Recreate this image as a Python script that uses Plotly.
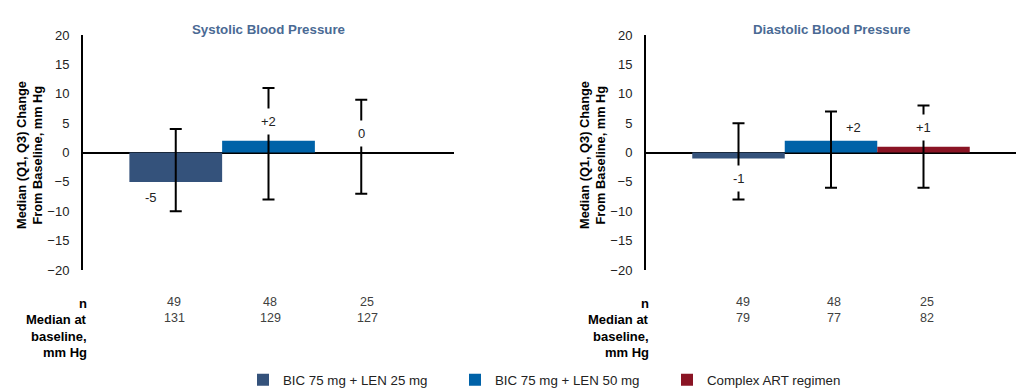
import plotly.graph_objects as go

# ---- data ----
groups = ["BIC 75 mg + LEN 25 mg", "BIC 75 mg + LEN 50 mg", "Complex ART regimen"]
colors = ["#34527b", "#0062a8", "#8a1424"]
positions = [0, 1, 2]

sbp_median = [-5, 2, 0]
sbp_q1 = [-10, -8, -7]
sbp_q3 = [4, 11, 9]
sbp_n = [49, 48, 25]
sbp_base = [131, 129, 127]

dbp_median = [-1, 2, 1]
dbp_q1 = [-8, -6, -6]
dbp_q3 = [5, 7, 8]
dbp_n = [49, 48, 25]
dbp_base = [79, 77, 82]

yticks = [20, 15, 10, 5, 0, -5, -10, -15, -20]

W, H = 1029, 389
FONT = "Liberation Sans, Arial, sans-serif"

def px(x):
    return x / W

def py(y):
    return 1 - y / H

fig = go.Figure()

panels = [
    ("x", "y", sbp_median, sbp_q1, sbp_q3),
    ("x2", "y2", dbp_median, dbp_q1, dbp_q3),
]
for pi, (xa, ya, med, q1, q3) in enumerate(panels):
    for i, g in enumerate(groups):
        fig.add_trace(go.Bar(
            x=[positions[i]], y=[med[i]], width=1.0,
            name=g, legendgroup=g, showlegend=(pi == 0),
            marker=dict(color=colors[i], line=dict(width=0)),
            error_y=dict(type="data", symmetric=False,
                         array=[q3[i] - med[i]], arrayminus=[med[i] - q1[i]],
                         color="black", thickness=2, width=6),
            xaxis=xa, yaxis=ya, hoverinfo="skip",
        ))

axis_y = dict(range=[-20, 20], tickvals=yticks, showgrid=False, showline=True,
              linecolor="black", linewidth=2, zeroline=True, zerolinecolor="black",
              zerolinewidth=2, ticks="outside", ticklen=9, tickcolor="rgba(0,0,0,0)",
              tickfont=dict(size=13, color="#222", family=FONT), fixedrange=True,
              automargin=False)
axis_x = dict(range=[-1, 3], visible=False, fixedrange=True, automargin=False)

top, bot = 35, 270
fig.update_layout(
    width=W, height=H, margin=dict(l=0, r=0, t=0, b=0, autoexpand=False),
    paper_bgcolor="white", plot_bgcolor="white",
    barmode="overlay", font=dict(family=FONT, size=12, color="#222"),
    xaxis=dict(axis_x, domain=[px(83), px(454)], anchor="y"),
    yaxis=dict(axis_y, domain=[py(bot), py(top)], anchor="x"),
    xaxis2=dict(axis_x, domain=[px(646), px(1016)], anchor="y2"),
    yaxis2=dict(axis_y, domain=[py(bot), py(top)], anchor="x2"),
    showlegend=True,
    legend=dict(orientation="h", x=px(243), y=py(380), xanchor="left", yanchor="middle",
                entrywidth=167, entrywidthmode="pixels", font=dict(size=13.3, color="#222"),
                bgcolor="rgba(0,0,0,0)", traceorder="normal"),
)

ann = []
title_color = "#4a6a94"

def pann(text, x, y, xanchor="center", font=None, **kw):
    d = dict(text=text, x=px(x), y=py(y), xref="paper", yref="paper", showarrow=False,
             xanchor=xanchor, yanchor="middle", font=font or dict(size=12, color="#222"))
    d.update(kw)
    return d

ann.append(pann("<b>Systolic Blood Pressure</b>", 268, 30, font=dict(size=13.3, color=title_color)))
ann.append(pann("<b>Diastolic Blood Pressure</b>", 831, 30, font=dict(size=13.3, color=title_color)))

for x0 in (0, 563):
    ann.append(pann("<b>Median (Q1, Q3) Change</b>", x0 + 21, 155,
                    font=dict(size=12.8, color="black"), textangle=-90))
    ann.append(pann("<b>From Baseline, mm Hg</b>", x0 + 36.5, 155,
                    font=dict(size=12.8, color="black"), textangle=-90))

# value labels (positions are styling only)
def lab(v):
    return f"+{v}" if v > 0 else f"{v}"

label_pos = [
    ("x", "y", sbp_median, [(-0.27, -7.6, False), (1.0, 5.25, True), (2.0, 3.2, True)]),
    ("x2", "y2", dbp_median, [(0.0, -4.4, True), (1.24, 4.2, False), (2.0, 4.2, True)]),
]
for xa, ya, med, poss in label_pos:
    for i, (lx, ly, cover) in enumerate(poss):
        ann.append(dict(text=lab(med[i]), x=lx, y=ly, xref=xa, yref=ya, showarrow=False,
                        xanchor="center", yanchor="middle",
                        font=dict(size=13, color="#222"),
                        bgcolor="white" if cover else None, borderpad=5 if cover else 1))

# table below
row_y = [303, 319.5, 336, 352]
row_labels = ["n", "Median at", "baseline,", "mm Hg"]
for right_x, xcs, ns, bases in ((89, [174, 270, 367], sbp_n, sbp_base),
                                 (651, [743, 834, 927], dbp_n, dbp_base)):
    for lbl, yy in zip(row_labels, row_y):
        ann.append(pann(f"<b>{lbl}</b>", right_x, yy, xanchor="right",
                        font=dict(size=13, color="black")))
    for xc, nv, bv in zip(xcs, ns, bases):
        ann.append(pann(str(nv), xc, 302, font=dict(size=12.5, color="#404040")))
        ann.append(pann(str(bv), xc, 318, font=dict(size=12.5, color="#404040")))

fig.update_layout(annotations=ann)
fig.write_html("out.html", config={"displayModeBar": False},
               post_script="document.body.style.margin='0';")
